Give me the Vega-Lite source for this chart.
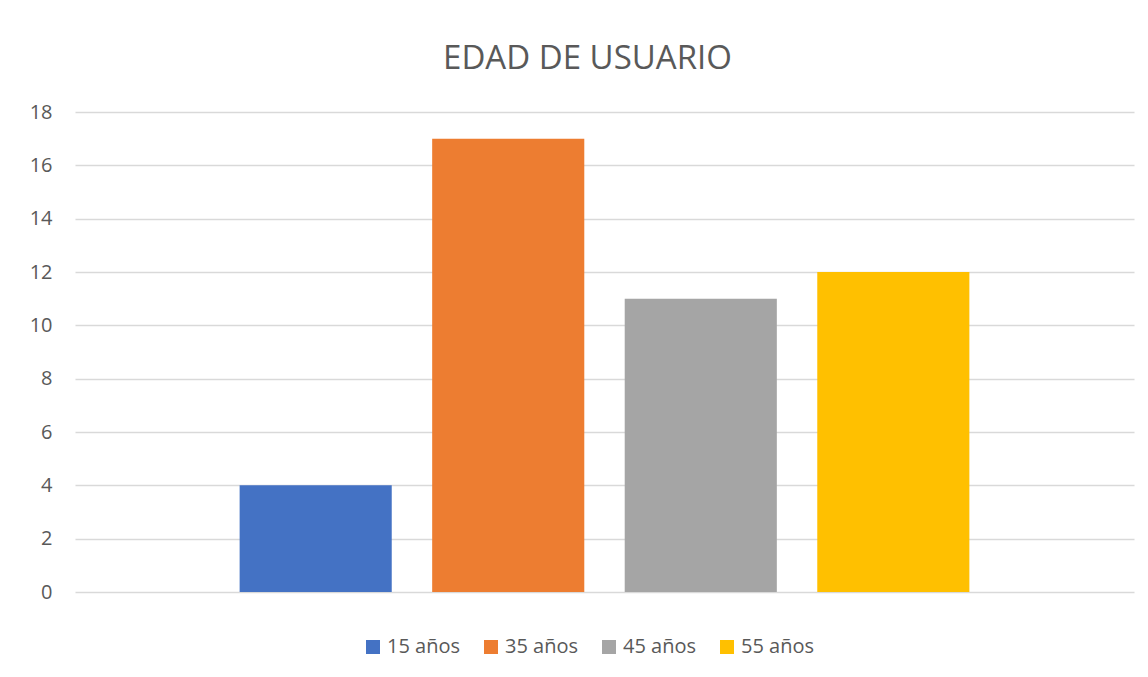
{
  "$schema": "https://vega.github.io/schema/vega-lite/v6.json",
  "width": 1059,
  "height": 480,
  "autosize": {"type": "none"},
  "padding": {"left": 75, "top": 112, "right": 14, "bottom": 85},
  "background": "white",
  "title": {
    "text": "EDAD DE USUARIO",
    "font": "Open Sans",
    "fontSize": 33,
    "fontWeight": "normal",
    "color": "#595959",
    "frame": "group",
    "anchor": "middle",
    "offset": 26,
    "dx": -17
  },
  "data": {
    "values": [
      {"serie": "15 años", "valor": 4},
      {"serie": "35 años", "valor": 17},
      {"serie": "45 años", "valor": 11},
      {"serie": "55 años", "valor": 12}
    ]
  },
  "mark": {"type": "bar"},
  "encoding": {
    "x": {
      "field": "serie",
      "type": "nominal",
      "sort": null,
      "axis": null,
      "scale": {"paddingInner": 0.21, "paddingOuter": 0.855}
    },
    "y": {
      "field": "valor",
      "type": "quantitative",
      "scale": {"domain": [0, 18], "nice": false},
      "axis": {
        "title": null,
        "values": [0, 2, 4, 6, 8, 10, 12, 14, 16, 18],
        "domain": false,
        "ticks": false,
        "labelPadding": 23,
        "labelFont": "Open Sans",
        "labelFontSize": 20,
        "labelColor": "#595959",
        "grid": true,
        "gridColor": "#d9d9d9",
        "gridWidth": 1.3
      }
    },
    "color": {
      "field": "serie",
      "type": "nominal",
      "sort": null,
      "scale": {
        "domain": ["15 años", "35 años", "45 años", "55 años"],
        "range": ["#4472C4", "#ED7D31", "#A5A5A5", "#FFC000"]
      },
      "legend": {
        "title": null,
        "orient": "none",
        "direction": "horizontal",
        "legendX": 288,
        "legendY": 525,
        "symbolType": "square",
        "symbolSize": 196,
        "symbolStrokeWidth": 0,
        "labelFont": "Open Sans",
        "labelFontSize": 20,
        "labelColor": "#595959",
        "labelOffset": 4,
        "columnPadding": 20
      }
    }
  },
  "config": {
    "view": {"stroke": null}
  }
}
